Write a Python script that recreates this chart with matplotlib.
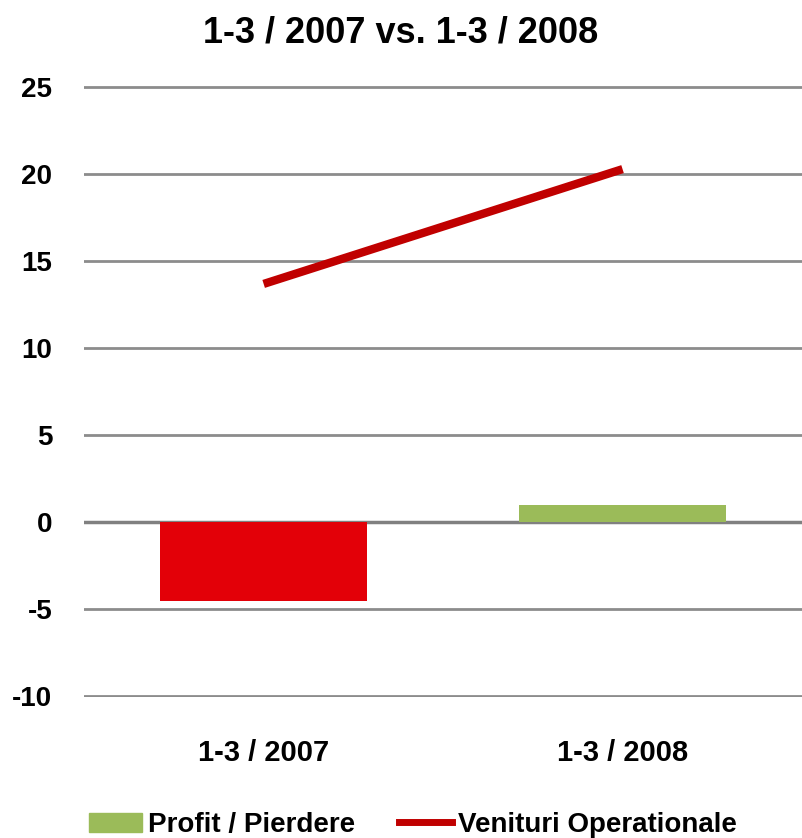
import matplotlib
matplotlib.use("Agg")
import matplotlib.pyplot as plt
from matplotlib.patches import Patch
from matplotlib.lines import Line2D
import numpy as np

# data
categories = ["1-3 / 2007", "1-3 / 2008"]
profit = [-4.55, 1.0]
venituri = [13.7, 20.3]
bar_colors = ["#E30008", "#9BBB59"]
yticks = [-10, -5, 0, 5, 10, 15, 20, 25]

plt.rcParams["font.family"] = ["Liberation Sans", "DejaVu Sans"]
plt.rcParams["font.weight"] = "bold"

fig = plt.figure(figsize=(8.02, 8.38), dpi=100)
ax = fig.add_axes([0.105, 0.168, 0.895, 0.729])

x = np.arange(len(categories))
ax.bar(x, profit, width=0.575, color=bar_colors, zorder=2)
ax.plot(x, venituri, color="#C00000", linewidth=6, solid_capstyle="butt", zorder=3)

# small margin so the outer gridlines are not half clipped
ax.set_ylim(-10.06, 25.06)
ax.set_xlim(-0.5, 1.5)
ax.set_yticks(yticks)
ax.set_yticklabels([str(v) for v in yticks], fontsize=20, fontweight="bold")
ax.set_xticks(x)
ax.set_xticklabels(categories, fontsize=21, fontweight="bold")
ax.tick_params(axis="x", length=0, pad=30)
ax.tick_params(axis="y", length=0, pad=23)
ax.grid(axis="y", color="#8c8c8c", linewidth=2, zorder=0)
ax.set_axisbelow(True)
for s in ax.spines.values():
    s.set_visible(False)
ax.axhline(0, color="#808080", linewidth=2.5, zorder=1)

fig.suptitle("1-3 / 2007 vs. 1-3 / 2008", fontsize=26, fontweight="bold", y=0.982)

handles = [Patch(color="#9BBB59"), Line2D([0], [0], color="#C00000", linewidth=5)]
fig.legend(handles, ["Profit / Pierdere", "Venituri Operationale"], loc="lower center",
           bbox_to_anchor=(0.515, -0.03), ncol=2, frameon=False,
           handlelength=1.9, handletextpad=0.2, columnspacing=1.6,
           prop={"size": 20, "weight": "bold"})

fig.savefig("out.png", dpi=100)
